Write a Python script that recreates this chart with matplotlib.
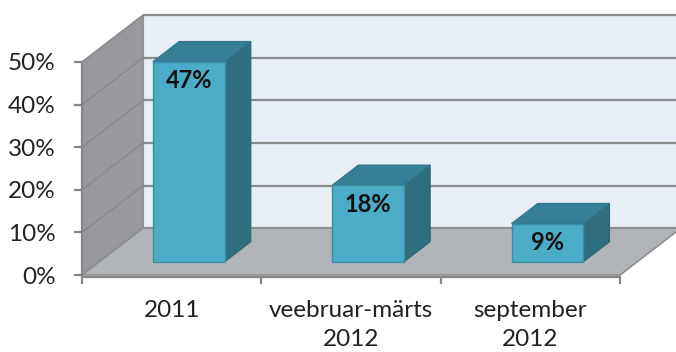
import matplotlib
matplotlib.use('Agg')
import matplotlib.pyplot as plt
from matplotlib.patches import Polygon

categories = ['2011', 'veebruar-märts\n2012', 'september\n2012']
values = [0.47, 0.18, 0.09]
labels = ['47%', '18%', '9%']
yticks = [0.0, 0.1, 0.2, 0.3, 0.4, 0.5]
ytick_labels = ['0%', '10%', '20%', '30%', '40%', '50%']

# oblique depth offsets (in data units) for the back plane
DX = 0.34
DY = 0.110
# bar placement in depth and width
D0, D1 = 0.28, 0.71
BW = 0.40

plt.rcParams['font.family'] = ['Lato', 'DejaVu Sans']

fig = plt.figure(figsize=(6.76, 3.52), dpi=100)
ax = fig.add_axes([82/676, 1 - 275/352, 538/676, 213/352])
ax.set_xlim(0, 3)
ax.set_ylim(0, 0.5)
ax.patch.set_visible(False)

def proj(x, y, d):
    return (x + d*DX, y + d*DY)

def poly(pts, fc, ec=None, lw=0.8, z=1):
    p = Polygon(pts, closed=True, facecolor=fc, edgecolor=ec if ec else fc,
                linewidth=lw, zorder=z, clip_on=False, joinstyle='miter')
    ax.add_patch(p)

ymax = yticks[-1]
nx = len(categories)

# back wall
poly([proj(0, 0, 1), proj(nx, 0, 1), proj(nx, ymax, 1), proj(0, ymax, 1)],
     '#e7eef6', '#c9cdd2', 1.0, z=1)
# gridlines on back wall
for t in yticks:
    x0, y0 = proj(0, t, 1)
    x1, y1 = proj(nx, t, 1)
    ax.plot([x0, x1], [y0, y1], color='#8c8c8c', lw=1.6, zorder=2,
            clip_on=False, solid_capstyle='butt')

# left wall
poly([proj(0, 0, 0), proj(0, ymax, 0), proj(0, ymax, 1), proj(0, 0, 1)],
     '#97999d', '#8a8a8a', 1.2, z=3)
for t in yticks[1:-1]:
    x0, y0 = proj(0, t, 0)
    x1, y1 = proj(0, t, 1)
    ax.plot([x0, x1], [y0, y1], color='#85878a', lw=1.0, zorder=4, clip_on=False)

# floor
poly([proj(0, 0, 0), proj(nx, 0, 0), proj(nx, 0, 1), proj(0, 0, 1)],
     '#b1b4b8', '#8e8e8e', 1.2, z=3)

# bars
for i, v in enumerate(values):
    xl = i + 0.5 - BW/2
    xr = i + 0.5 + BW/2
    # right side
    poly([proj(xr, 0, D0), proj(xr, v, D0), proj(xr, v, D1), proj(xr, 0, D1)],
         '#2f6e7d', '#2c6674', 0.8, z=5)
    # top
    poly([proj(xl, v, D0), proj(xr, v, D0), proj(xr, v, D1), proj(xl, v, D1)],
         '#368095', '#317687', 0.8, z=5)
    # front face
    poly([proj(xl, 0, D0), proj(xr, 0, D0), proj(xr, v, D0), proj(xl, v, D0)],
         '#4aacc6', '#3a8ea5', 1.0, z=6)
    lx, ly = proj(i + 0.5, v, D0)
    ax.annotate(labels[i], (lx, ly), xytext=(0, -5.5), textcoords='offset points',
                ha='center', va='top', fontsize=17, fontweight='bold',
                color='#111111', zorder=7, annotation_clip=False)

# axes
for s in ['top', 'right']:
    ax.spines[s].set_visible(False)
for s in ['left', 'bottom']:
    ax.spines[s].set_color('#868686')
    ax.spines[s].set_linewidth(1.6)
    ax.spines[s].set_zorder(8)
ax.spines['bottom'].set_position(('outward', 1.5))

ax.set_yticks(yticks)
ax.set_yticklabels(ytick_labels)
ax.tick_params(axis='y', length=6, width=1.6, color='#868686', pad=13,
               labelsize=17.5, labelcolor='#222222')

ax.set_xticks(range(nx + 1))
ax.set_xticklabels([])
ax.set_xticks([i + 0.5 for i in range(nx)], minor=True)
ax.set_xticklabels(categories, minor=True, linespacing=1.45)
ax.tick_params(axis='x', which='major', length=5, width=1.6, color='#868686')
ax.tick_params(axis='x', which='minor', length=0, pad=16.5,
               labelsize=17.5, labelcolor='#222222')

fig.savefig('out.png', dpi=100)
